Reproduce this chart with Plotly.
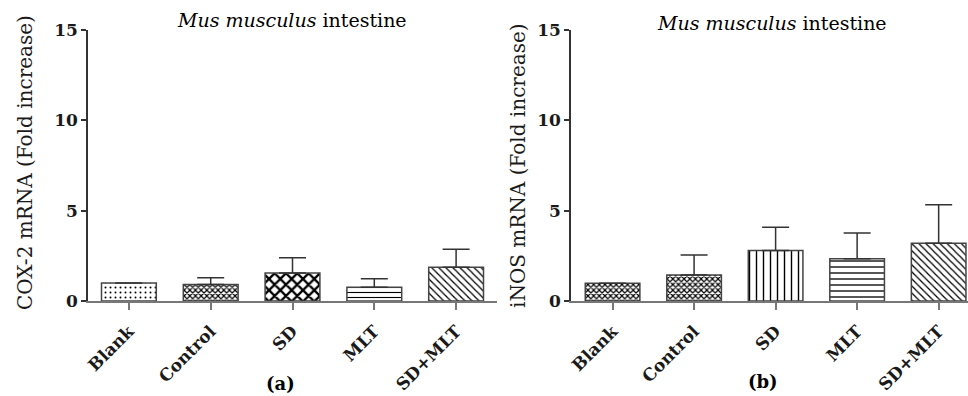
import plotly.graph_objects as go

# ---- data ----
categories = ["Blank", "Control", "SD", "MLT", "SD+MLT"]
cox2_mean = [1.00, 0.92, 1.55, 0.76, 1.87]
cox2_upper = [None, 1.29, 2.40, 1.23, 2.86]   # mean + SD (top of error bar)
inos_mean = [0.98, 1.44, 2.80, 2.34, 3.19]
inos_upper = [None, 2.55, 4.08, 3.76, 5.33]
y_ticks = [0, 5, 10, 15]
panel_titles = ["<i>Mus musculus</i> intestine", "<i>Mus musculus</i> intestine"]
y_titles = ["COX-2 mRNA (Fold increase)", "iNOS mRNA (Fold increase)"]
panel_labels = ["(a)", "(b)"]

# ---- styles ----
W, H = 968, 396
FONT = "DejaVu Serif"
pat_a = dict(shape=[".", "x", "x", "-", "\\"], size=[5, 4, 8, 5, 5],
             solidity=[0.12, 0.5, 0.5, 0.22, 0.25])
pat_b = dict(shape=["x", "x", "|", "-", "\\"], size=[4, 4, 7, 6, 5],
             solidity=[0.5, 0.5, 0.2, 0.22, 0.25])


def err_plus(mean, upper):
    return [None if u is None else u - m for m, u in zip(mean, upper)]


def px_x(p):
    return p / W


def px_y(p):
    return (H - p) / H


fig = go.Figure()

for i, (mean, upper, pat) in enumerate([(cox2_mean, cox2_upper, pat_a),
                                         (inos_mean, inos_upper, pat_b)]):
    fig.add_trace(go.Bar(
        x=categories, y=mean,
        xaxis="x" if i == 0 else "x2", yaxis="y" if i == 0 else "y2",
        width=0.67,
        marker=dict(color="white",
                    line=dict(color="#444444", width=1.5),
                    pattern=dict(fillmode="replace", fgcolor="black", bgcolor="white", **pat)),
        error_y=dict(type="data", symmetric=False,
                     array=err_plus(mean, upper), arrayminus=[0] * len(mean),
                     color="#333333", thickness=1.5, width=13.5),
        showlegend=False,
    ))

xcommon = dict(type="category", showline=True, linecolor="#777777", linewidth=1.5,
               ticks="outside", ticklen=7, tickwidth=1.5, tickcolor="#777777",
               tickangle=-45, showgrid=False, zeroline=False, ticklabelstandoff=5,
               tickfont=dict(family=FONT, size=17, color="#1a1a1a", weight="bold"))
ycommon = dict(range=[0, 15], tickvals=y_ticks, showline=True, linecolor="#333333",
               linewidth=1.5, ticks="outside", ticklen=5, tickwidth=1.5,
               tickcolor="#333333", showgrid=False, zeroline=False,
               tickfont=dict(family=FONT, size=17, color="#1a1a1a", weight="bold"),
               domain=[px_y(301), px_y(30)])

fig.update_layout(
    width=W, height=H,
    margin=dict(l=0, r=0, t=0, b=0, autoexpand=False),
    paper_bgcolor="white", plot_bgcolor="white",
    xaxis=dict(domain=[px_x(88), px_x(497)], range=[-0.5, 4.5], anchor="y", **xcommon),
    xaxis2=dict(domain=[px_x(571), 1.0], range=[-0.51, 4.36], anchor="y2", **xcommon),
    yaxis=dict(anchor="x", **ycommon),
    yaxis2=dict(anchor="x2", **ycommon),
)

ann = []
for x, y, t in [(292, 20, panel_titles[0]), (772, 23, panel_titles[1])]:
    ann.append(dict(x=px_x(x), y=px_y(y), xref="paper", yref="paper", text=t,
                    showarrow=False, xanchor="center", yanchor="middle",
                    font=dict(family=FONT, size=19, color="black")))
for x, y, t in [(25, 163, y_titles[0]), (518, 166, y_titles[1])]:
    ann.append(dict(x=px_x(x), y=px_y(y), xref="paper", yref="paper", text=t,
                    showarrow=False, textangle=-90, xanchor="center", yanchor="middle",
                    font=dict(family=FONT, size=20, color="#1a1a1a")))
for x, y, t in [(280, 383, panel_labels[0]), (763, 381, panel_labels[1])]:
    ann.append(dict(x=px_x(x), y=px_y(y), xref="paper", yref="paper", text=t,
                    showarrow=False, xanchor="center", yanchor="middle",
                    font=dict(family=FONT, size=18, color="black", weight="bold")))
fig.update_layout(annotations=ann)

fig.write_html("out.html", config={"displayModeBar": False},
               post_script="document.body.style.margin='0';document.body.style.overflow='hidden';")
